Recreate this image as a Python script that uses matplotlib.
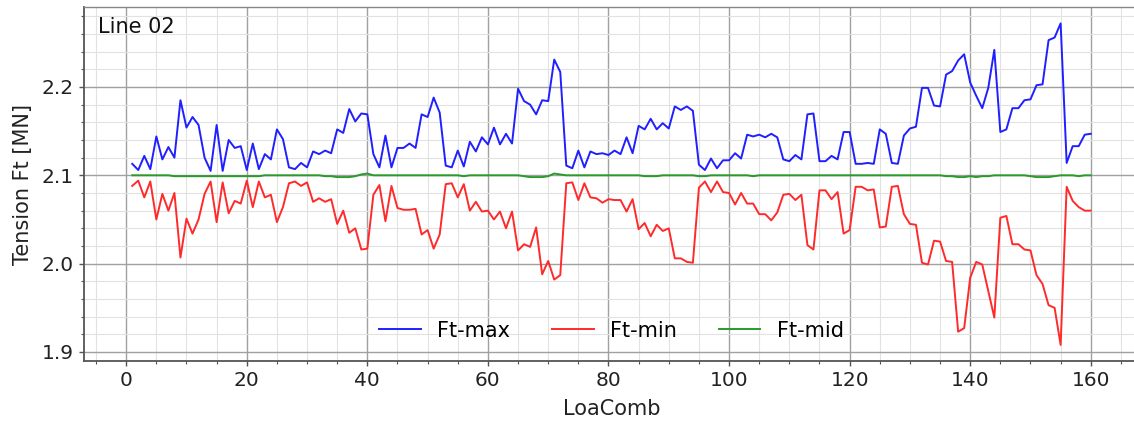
import matplotlib
matplotlib.use("Agg")
import matplotlib.pyplot as plt
from matplotlib.ticker import MultipleLocator

load_comb = list(range(1, 161))

ft_max = [
    2.113, 2.106, 2.122, 2.107, 2.144, 2.118, 2.132, 2.120, 2.185, 2.154,
    2.166, 2.157, 2.120, 2.105, 2.157, 2.105, 2.140, 2.131, 2.133, 2.106,
    2.136, 2.107, 2.124, 2.118, 2.152, 2.141, 2.109, 2.107, 2.114, 2.109,
    2.127, 2.124, 2.128, 2.125, 2.152, 2.148, 2.175, 2.161, 2.170, 2.169,
    2.124, 2.109, 2.145, 2.109, 2.131, 2.131, 2.136, 2.131, 2.169, 2.166,
    2.188, 2.171, 2.111, 2.109, 2.128, 2.110, 2.138, 2.127, 2.143, 2.135,
    2.154, 2.135, 2.147, 2.136, 2.198, 2.184, 2.180, 2.169, 2.185, 2.184,
    2.231, 2.217, 2.111, 2.108, 2.128, 2.109, 2.127, 2.124, 2.125, 2.123,
    2.128, 2.124, 2.143, 2.125, 2.156, 2.152, 2.164, 2.152, 2.159, 2.153,
    2.178, 2.174, 2.178, 2.173, 2.112, 2.106, 2.119, 2.108, 2.117, 2.117,
    2.125, 2.119, 2.146, 2.144, 2.146, 2.143, 2.147, 2.143, 2.118, 2.116,
    2.123, 2.118, 2.169, 2.170, 2.116, 2.116, 2.122, 2.118, 2.149, 2.149,
    2.113, 2.113, 2.114, 2.113, 2.152, 2.147, 2.114, 2.113, 2.145, 2.153,
    2.155, 2.199, 2.199, 2.179, 2.178, 2.214, 2.218, 2.230, 2.237, 2.205,
    2.190, 2.176, 2.199, 2.242, 2.149, 2.152, 2.176, 2.176, 2.185, 2.186,
    2.202, 2.203, 2.253, 2.256, 2.272, 2.114, 2.133, 2.133, 2.146, 2.147,
]

ft_min = [
    2.088, 2.094, 2.075, 2.093, 2.050, 2.079, 2.060, 2.080, 2.007, 2.051,
    2.034, 2.050, 2.079, 2.093, 2.047, 2.092, 2.057, 2.071, 2.068, 2.094,
    2.064, 2.093, 2.075, 2.078, 2.047, 2.064, 2.091, 2.093, 2.088, 2.092,
    2.070, 2.074, 2.070, 2.073, 2.045, 2.060, 2.035, 2.040, 2.016, 2.017,
    2.078, 2.089, 2.048, 2.088, 2.063, 2.061, 2.061, 2.062, 2.033, 2.038,
    2.017, 2.033, 2.090, 2.091, 2.075, 2.090, 2.060, 2.070, 2.059, 2.060,
    2.050, 2.059, 2.040, 2.059, 2.015, 2.022, 2.019, 2.041, 1.988, 2.003,
    1.982, 1.987, 2.091, 2.092, 2.072, 2.091, 2.075, 2.074, 2.069, 2.073,
    2.072, 2.072, 2.059, 2.073, 2.039, 2.046, 2.031, 2.044, 2.037, 2.040,
    2.006, 2.006, 2.002, 2.001, 2.086, 2.093, 2.081, 2.093, 2.081, 2.080,
    2.067, 2.080, 2.068, 2.068, 2.056, 2.056, 2.049, 2.058, 2.078, 2.079,
    2.072, 2.078, 2.021, 2.016, 2.083, 2.083, 2.073, 2.081, 2.034, 2.038,
    2.087, 2.087, 2.083, 2.084, 2.041, 2.042, 2.087, 2.088, 2.056, 2.045,
    2.044, 2.001, 1.999, 2.026, 2.025, 2.003, 2.002, 1.923, 1.927, 1.984,
    2.002, 1.999, 1.969, 1.939, 2.052, 2.054, 2.022, 2.022, 2.016, 2.015,
    1.987, 1.977, 1.953, 1.950, 1.908, 2.087, 2.071, 2.064, 2.060, 2.060,
]

ft_mid = [
    2.100, 2.100, 2.100, 2.100, 2.100, 2.100, 2.100, 2.099, 2.099, 2.099,
    2.099, 2.099, 2.099, 2.099, 2.099, 2.099, 2.099, 2.099, 2.099, 2.099,
    2.099, 2.099, 2.100, 2.100, 2.100, 2.100, 2.100, 2.100, 2.100, 2.100,
    2.100, 2.100, 2.099, 2.099, 2.098, 2.098, 2.098, 2.099, 2.101, 2.102,
    2.100, 2.100, 2.100, 2.100, 2.100, 2.100, 2.100, 2.100, 2.100, 2.100,
    2.100, 2.100, 2.100, 2.100, 2.100, 2.099, 2.100, 2.100, 2.100, 2.100,
    2.100, 2.100, 2.100, 2.100, 2.100, 2.099, 2.098, 2.098, 2.098, 2.099,
    2.102, 2.101, 2.100, 2.100, 2.100, 2.100, 2.100, 2.100, 2.100, 2.100,
    2.100, 2.100, 2.100, 2.100, 2.100, 2.099, 2.099, 2.099, 2.100, 2.100,
    2.100, 2.100, 2.100, 2.100, 2.099, 2.099, 2.100, 2.100, 2.100, 2.100,
    2.100, 2.100, 2.100, 2.099, 2.100, 2.100, 2.100, 2.100, 2.100, 2.100,
    2.100, 2.100, 2.100, 2.100, 2.100, 2.100, 2.100, 2.100, 2.100, 2.100,
    2.100, 2.100, 2.100, 2.100, 2.100, 2.100, 2.100, 2.100, 2.100, 2.100,
    2.100, 2.100, 2.100, 2.100, 2.100, 2.099, 2.099, 2.098, 2.098, 2.099,
    2.098, 2.099, 2.099, 2.100, 2.100, 2.100, 2.100, 2.100, 2.100, 2.099,
    2.098, 2.098, 2.098, 2.099, 2.100, 2.100, 2.100, 2.099, 2.100, 2.100,
]

series_labels = ["Ft-max", "Ft-min", "Ft-mid"]
panel_title = "Line 02"
x_label = "LoaComb"
y_label = "Tension Ft [MN]"

plt.rcParams["font.family"] = ["DejaVu Sans"]

W, H = 1134, 421
fig = plt.figure(figsize=(W / 100, H / 100), dpi=100)
left_px, right_px, top_px, bot_px = 84.3, 1138.7, 7.3, 361.0
ax = fig.add_axes([left_px / W, 1 - bot_px / H, (right_px - left_px) / W, (bot_px - top_px) / H])

lw = 1.4
ax.plot(load_comb, ft_max, color="#1f1fff", lw=lw, label=series_labels[0])
ax.plot(load_comb, ft_min, color="#ff2a2a", lw=lw, label=series_labels[1])
ax.plot(load_comb, ft_mid, color="#2a9a2a", lw=lw, label=series_labels[2])

ax.xaxis.set_major_locator(MultipleLocator(20))
ax.xaxis.set_minor_locator(MultipleLocator(5))
ax.yaxis.set_major_locator(MultipleLocator(0.1))
ax.yaxis.set_minor_locator(MultipleLocator(0.02))

ax.grid(which="major", color="#a0a0a0", lw=1.0)
ax.grid(which="minor", color="#e2e2e2", lw=0.8)
ax.set_axisbelow(True)

ax.tick_params(which="major", direction="out", length=3.5, width=1.0, color="#555555",
               labelsize=14.5, labelcolor="#222222", pad=4)
ax.tick_params(which="minor", direction="out", length=2.5, width=0.8, color="#555555")

for side in ["left", "bottom"]:
    ax.spines[side].set_color("#555555")
    ax.spines[side].set_linewidth(1.3)
for side in ["top", "right"]:
    ax.spines[side].set_color("#888888")
    ax.spines[side].set_linewidth(1.0)

ax.set_xlabel(x_label, fontsize=15, color="#222222", labelpad=6)
ax.set_ylabel(y_label, fontsize=15, color="#222222", labelpad=6)

ax.text(0.013, 0.944, panel_title, transform=ax.transAxes, fontsize=15,
        color="#111111", ha="left", va="center")

ax.legend(loc="center", bbox_to_anchor=(0.5, 0.0857), ncol=3, frameon=False,
          fontsize=15, handlelength=2.0, handletextpad=0.8, columnspacing=2.0)

fig.savefig("out.png", dpi=100)
